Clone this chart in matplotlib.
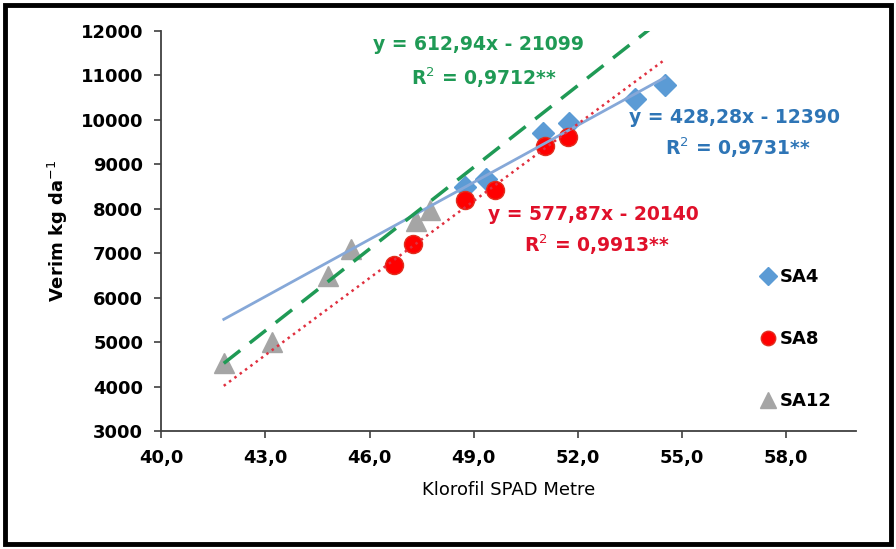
import numpy as np
import matplotlib
matplotlib.use("Agg")
import matplotlib.pyplot as plt
from matplotlib.patches import Rectangle
from matplotlib.ticker import FuncFormatter

# data
sa4_x = [48.75, 49.35, 51.0, 51.75, 53.65, 54.5]
sa4_y = [8480, 8660, 9700, 9940, 10480, 10790]
sa8_x = [46.7, 47.25, 48.75, 49.6, 51.05, 51.7]
sa8_y = [6730, 7200, 8190, 8430, 9410, 9620]
sa12_x = [41.8, 43.2, 44.8, 45.45, 47.35, 47.75]
sa12_y = [4520, 5000, 6480, 7100, 7720, 7980]

# trendline coefficients (slope, intercept) and x ranges as printed
fit_sa4 = (428.28, -12390)
fit_sa8 = (577.87, -20140)
fit_sa12 = (612.94, -21099)
fit_range = (41.8, 54.5)

eq_sa4 = ["y = 428,28x - 12390", "R$^2$ = 0,9731**"]
eq_sa8 = ["y = 577,87x - 20140", "R$^2$ = 0,9913**"]
eq_sa12 = ["y = 612,94x - 21099", "R$^2$ = 0,9712**"]

blue = "#5b9bd5"
red = "#ff0000"
gray = "#a5a5a5"

fig = plt.figure(figsize=(8.96, 5.49), dpi=100)
ax = fig.add_axes([0.180, 0.215, 0.775, 0.7285])

ax.plot(sa4_x, sa4_y, "D", color=blue, ms=11, mec=blue, label="SA4", zorder=3)
ax.plot(sa8_x, sa8_y, "o", color=red, ms=13, mec="#e03020", label="SA8", zorder=3)
ax.plot(sa12_x, sa12_y, "^", color=gray, ms=14, mec=gray, label="SA12", zorder=3)

xs = np.array(fit_range)
ax.plot(xs, fit_sa4[0] * xs + fit_sa4[1], "-", color="#86a8d8", lw=2, zorder=4)
ax.plot(xs, fit_sa12[0] * xs + fit_sa12[1], "--", color="#1f9a55", lw=2.5,
        dashes=(6, 3.5), zorder=4)
ax.plot(xs, fit_sa8[0] * xs + fit_sa8[1], ":", color="#e0303f", lw=1.8, zorder=4)

tfont = dict(fontsize=13.5, fontweight="bold", ha="center", va="center")
ax.text(49.15, 11690, eq_sa12[0], color="#1f9a55", **tfont)
ax.text(49.3, 10950, eq_sa12[1], color="#1f9a55", **tfont)
ax.text(56.5, 10050, eq_sa4[0], color="#2e75b6", **tfont)
ax.text(56.6, 9370, eq_sa4[1], color="#2e75b6", **tfont)
ax.text(52.45, 7860, eq_sa8[0], color="#e0102a", **tfont)
ax.text(52.55, 7180, eq_sa8[1], color="#e0102a", **tfont)

ax.set_xlim(40, 60)
ax.set_ylim(3000, 12000)
ax.set_xticks(np.arange(40, 59, 3))
ax.set_yticks(np.arange(3000, 12001, 1000))
ax.xaxis.set_major_formatter(FuncFormatter(lambda v, p: f"{v:.1f}".replace(".", ",")))
for lab in ax.get_xticklabels() + ax.get_yticklabels():
    lab.set_fontweight("bold")
ax.tick_params(labelsize=13, length=5, width=1.2, color="#404040", pad=8)

for s in ["top", "right"]:
    ax.spines[s].set_visible(False)
for s in ["left", "bottom"]:
    ax.spines[s].set_linewidth(1.3)
    ax.spines[s].set_color("#404040")

ax.set_xlabel("Klorofil SPAD Metre", fontsize=13, labelpad=10)
ax.set_ylabel("Verim kg da$^{-1}$", fontsize=13, fontweight="bold", labelpad=8)

ax.legend(loc="upper left", bbox_to_anchor=(0.845, 0.43), frameon=False,
          prop={"weight": "bold", "size": 13}, labelspacing=2.45, markerscale=0.8,
          handletextpad=0.05, handlelength=1.2, borderpad=0)

fig.add_artist(Rectangle((0.006, 0.01), 0.988, 0.98, transform=fig.transFigure,
                         fill=False, lw=3.5, ec="black"))

fig.savefig("out.png", dpi=100)
